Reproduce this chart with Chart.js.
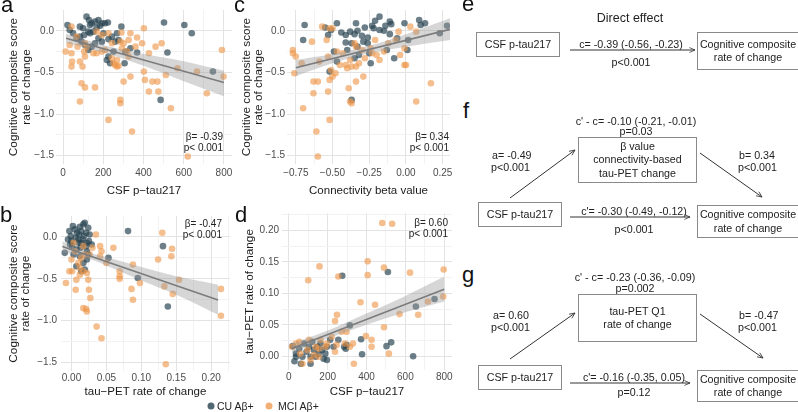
<!DOCTYPE html>
<html>
<head>
<meta charset="utf-8">
<script src="https://cdn.jsdelivr.net/npm/chart.js@4.4.1/dist/chart.umd.min.js"></script>
<style>
  body { margin: 0; width: 798px; height: 412px; background: #fff; position: relative; overflow: hidden;
         font-family: 'Liberation Sans', Arial, sans-serif; color: #222; }
  canvas { position: absolute; }
  .lbl { position: absolute; font-size: 22px; line-height: 22px; color: #111; }
  .stat { position: absolute; font-size: 10px; line-height: 11px; color: #222; text-align: right; white-space: nowrap; }
  .box { position: absolute; box-sizing: border-box; border: 1px solid #8a8a8a; display: flex; align-items: center;
         justify-content: center; text-align: center; font-size: 10.7px; line-height: 13.5px; color: #222; }
  .t { position: absolute; font-size: 10.7px; line-height: 12px; color: #222; white-space: nowrap; }
  .c { transform: translate(-50%, -50%); }
  .l { transform: translateY(-50%); }
  .leg { position: absolute; font-size: 10.5px; color: #222; white-space: nowrap; transform: translateY(-50%); }
  .dot { position: absolute; width: 7px; height: 7px; border-radius: 50%; transform: translate(-50%, -50%); }
</style>
</head>
<body>
<canvas id="chartA" width="236" height="200" style="left:0;top:0"></canvas>
<canvas id="chartC" width="224" height="200" style="left:232px;top:0"></canvas>
<canvas id="chartB" width="236" height="200" style="left:0;top:200px"></canvas>
<canvas id="chartD" width="224" height="200" style="left:232px;top:200px"></canvas>

<div class="lbl" style="left:1px;top:-6px">a</div>
<div class="lbl" style="left:234px;top:-6px">c</div>
<div class="lbl" style="left:0;top:204px">b</div>
<div class="lbl" style="left:235px;top:204px">d</div>
<div class="lbl" style="left:462px;top:-7px">e</div>
<div class="lbl" style="left:463px;top:100px">f</div>
<div class="lbl" style="left:462px;top:264px">g</div>

<div class="stat" style="right:575px;top:131px">β= -0.39<br>p&lt; 0.001</div>
<div class="stat" style="right:349px;top:131px">β= 0.34<br>p&lt; 0.001</div>
<div class="stat" style="right:576px;top:218px">β= -0.47<br>p&lt; 0.001</div>
<div class="stat" style="right:350px;top:217px">β= 0.60<br>p&lt; 0.001</div>

<div class="dot" style="left:211px;top:406px;background:rgba(38,66,80,0.8)"></div>
<div class="leg" style="left:217px;top:406px">CU Aβ+</div>
<div class="dot" style="left:269px;top:406px;background:rgba(238,150,72,0.75)"></div>
<div class="leg" style="left:278px;top:406px">MCI Aβ+</div>

<!-- mediation diagrams -->
<svg width="798" height="412" style="position:absolute;left:0;top:0">
  <defs>
    <marker id="ah" viewBox="0 0 10 10" refX="9" refY="5" markerWidth="7" markerHeight="7" orient="auto">
      <path d="M1,1.5 L9,5 L1,8.5" fill="none" stroke="#333" stroke-width="1.1"/>
    </marker>
  </defs>
  <g stroke="#333" stroke-width="1" marker-end="url(#ah)">
    <line x1="570" y1="50" x2="695" y2="50"/>
    <line x1="510" y1="198" x2="575" y2="150"/>
    <line x1="700" y1="153" x2="762" y2="197"/>
    <line x1="570" y1="217" x2="690" y2="217"/>
    <line x1="510" y1="359" x2="575" y2="313"/>
    <line x1="700" y1="314" x2="763" y2="358"/>
    <line x1="570" y1="383" x2="690" y2="383"/>
  </g>
</svg>

<div class="t c" style="left:630px;top:18px;font-size:12.5px">Direct effect</div>
<div class="box" style="left:476px;top:32px;width:84px;height:25px">CSF p-tau217</div>
<div class="t c" style="left:631px;top:44px">c= -0.39 (-0.56, -0.23)</div>
<div class="t c" style="left:631px;top:62px">p&lt;0.001</div>
<div class="box" style="left:697px;top:32px;width:102px;height:38px">Cognitive composite<br>rate of change</div>

<div class="t c" style="left:636px;top:121px">c' - c= -0.10 (-0.21, -0.01)</div>
<div class="t c" style="left:636px;top:131px">p=0.03</div>
<div class="box" style="left:578px;top:137px;width:119px;height:46px">β value<br>connectivity-based<br>tau-PET change</div>
<div class="t l" style="left:492px;top:155px">a= -0.49</div>
<div class="t l" style="left:491px;top:167px">p&lt;0.001</div>
<div class="t l" style="left:739px;top:155px">b= 0.34</div>
<div class="t l" style="left:738px;top:167px">p&lt;0.001</div>
<div class="box" style="left:478px;top:202px;width:84px;height:25px">CSF p-tau217</div>
<div class="t c" style="left:634px;top:211px">c'= -0.30 (-0.49, -0.12)</div>
<div class="t c" style="left:634px;top:229px">p&lt;0.001</div>
<div class="box" style="left:697px;top:205px;width:102px;height:33px">Cognitive composite<br>rate of change</div>

<div class="t c" style="left:635px;top:277px">c' - c= -0.23 (-0.36, -0.09)</div>
<div class="t c" style="left:635px;top:288px">p=0.002</div>
<div class="box" style="left:578px;top:294px;width:119px;height:48px">tau-PET Q1<br>rate of change</div>
<div class="t l" style="left:493px;top:315px">a= 0.60</div>
<div class="t l" style="left:491px;top:327px">p&lt;0.001</div>
<div class="t l" style="left:739px;top:315px">b= -0.47</div>
<div class="t l" style="left:738px;top:327px">p&lt;0.001</div>
<div class="box" style="left:478px;top:365px;width:84px;height:25px">CSF p-tau217</div>
<div class="t c" style="left:634px;top:377px">c'= -0.16 (-0.35, 0.05)</div>
<div class="t c" style="left:634px;top:392px">p=0.12</div>
<div class="box" style="left:697px;top:370px;width:102px;height:32px">Cognitive composite<br>rate of change</div>

<script>
// ---- tick positions / labels ----
const pTauTicks = [0, 200, 400, 600, 800];
const pTauLabels = ['0', '200', '400', '600', '800'];
const pTauMinor = [100, 300, 500, 700];
const cogTicks = [0, -0.5, -1, -1.5];
const cogLabels = ['0.0', '\u22120.5', '\u22121.0', '\u22121.5'];
const cogMinor = [-0.25, -0.75, -1.25];
const connTicks = [-0.75, -0.5, -0.25, 0, 0.25];
const connLabels = ['\u22120.75', '\u22120.50', '\u22120.25', '0.00', '0.25'];
const connMinor = [-0.625, -0.375, -0.125, 0.125];
const tauTicks = [0, 0.05, 0.1, 0.15, 0.2];
const tauLabels = ['0.00', '0.05', '0.10', '0.15', '0.20'];
const tauMinor = [0.025, 0.075, 0.125, 0.175, 0.225];

// ---- panel a: CSF p-tau217 vs cognitive change ----
const aCU = [[22,0.07],[33,0.01],[50,-0.03],[84,0.05],[100,0.03],[105,-0.05],[117,0.17],[129,0.13],[134,0.07],[142,0.09],
  [151,-0.01],[159,0.11],[167,0.04],[176,0.13],[184,0.06],[193,0.09],[201,-0.03],[209,0.09],[223,0.10],[84,-0.07],
  [92,-0.13],[109,-0.17],[126,-0.23],[142,-0.19],[159,-0.15],[176,-0.09],[193,-0.13],[226,-0.10],[243,-0.07],[268,-0.03],
  [290,0.05],[259,-0.13],[276,-0.11],[226,-0.31],[218,-0.35],[234,-0.39],[251,-0.25],[310,-0.25],[306,-0.39],[335,-0.21],
  [368,-0.26],[502,0.10],[519,-0.26],[603,0.07],[640,-0.03],[745,-0.49],[485,-0.83],[126,-0.01],[67,-0.09],[134,-0.03]];
const aMCI = [[13,-0.25],[42,0.05],[33,-0.17],[42,-0.27],[45,-0.37],[42,-0.43],[67,-0.07],[72,-0.19],[84,-0.37],[97,-0.43],
  [105,-0.25],[109,-0.31],[117,-0.19],[92,-0.63],[84,-0.85],[109,-0.68],[109,-0.15],[151,-0.27],[167,-0.27],[193,-0.25],
  [209,-0.23],[243,-0.15],[251,-0.39],[268,-0.35],[276,-0.42],[268,-0.43],[285,-0.13],[293,-0.21],[301,-0.15],[318,-0.25],
  [326,-0.11],[335,-0.03],[326,-0.31],[335,-0.55],[285,-0.83],[285,-0.87],[226,-1.07],[301,-0.61],[343,-1.21],[402,0.03],
  [393,-0.15],[402,-0.49],[407,-0.59],[427,-0.27],[444,-0.61],[427,-0.73],[469,-0.61],[474,-0.73],[490,-0.15],[511,-0.53],
  [536,-0.93],[569,-0.45],[620,-1.51],[666,-0.49],[715,-0.75],[790,-0.23],[798,-0.55],[368,-0.08],[360,-0.19],[460,-0.19],
  [159,-0.68],[243,-0.33],[259,-0.41],[290,-0.02],[193,-0.05],[226,-0.03],[167,-0.01]];
const aFit = [[15,-0.09],[800,-0.62]];
const aBandHi = [[15,-0.035],[200,-0.17],[400,-0.28],[600,-0.365],[800,-0.48]];
const aBandLo = [[15,-0.145],[200,-0.26],[400,-0.42],[600,-0.605],[800,-0.785]];

// ---- panel c: connectivity beta vs cognitive change ----
const cCU = [[-0.69,0.07],[-0.70,-0.11],[-0.55,0.04],[-0.53,-0.05],[-0.52,-0.49],[-0.51,0.01],[-0.47,0.09],[-0.44,-0.02],
  [-0.41,-0.05],[-0.40,-0.23],[-0.38,-0.01],[-0.37,-0.15],[-0.35,-0.33],[-0.34,0.09],[-0.35,-0.04],[-0.37,-0.83],[-0.33,-0.19],
  [-0.32,-0.29],[-0.30,-0.06],[-0.29,-0.13],[-0.28,0.04],[-0.26,-0.08],[-0.25,-0.27],[-0.24,-0.39],[-0.23,0.06],[-0.22,0.03],
  [-0.21,0.12],[-0.18,0.17],[-0.18,0.01],[-0.15,0.0],[-0.14,0.06],[-0.13,-0.23],[-0.11,-0.04],[-0.11,0.11],[-0.10,0.08],
  [-0.08,-0.33],[-0.06,-0.09],[-0.01,0.09],[0.01,-0.23],[0.015,-0.11],[0.09,0.13],[0.10,0.07],[0.13,0.09],[0.23,-0.03],
  [0.28,0.06],[-0.49,-0.25],[-0.47,-0.37],[-0.26,-0.15],[-0.41,-0.14],[-0.33,0.0]];
const cMCI = [[-0.77,-0.23],[-0.77,-0.27],[-0.76,-0.51],[-0.71,-0.39],[-0.75,-0.31],[-0.70,-0.93],[-0.64,-0.13],[-0.59,-0.37],
  [-0.63,-0.61],[-0.60,-0.61],[-0.63,-0.75],[-0.61,-1.21],[-0.60,-1.51],[-0.57,0.05],[-0.54,-0.11],[-0.52,0.03],[-0.50,0.03],
  [-0.53,-0.31],[-0.51,-0.47],[-0.50,-0.55],[-0.52,-0.59],[-0.53,-0.73],[-0.52,-1.07],[-0.47,-0.25],[-0.45,-0.41],[-0.48,-0.51],
  [-0.43,-0.27],[-0.41,-0.41],[-0.40,-0.45],[-0.39,-0.69],[-0.38,-0.85],[-0.37,-0.87],[-0.34,-0.61],[-0.35,-0.15],[-0.37,-0.43],
  [-0.34,-0.43],[-0.32,-0.39],[-0.29,-0.55],[-0.30,-0.23],[-0.28,-0.33],[-0.23,-0.27],[-0.21,-0.11],[-0.20,-0.29],[-0.18,-0.35],
  [-0.15,-0.25],[-0.12,-0.15],[-0.07,-0.11],[-0.05,-0.01],[-0.04,-0.29],[-0.01,-0.41],[0.00,-0.41],[-0.01,-0.21],[0.03,0.05],
  [0.07,-0.85],[0.17,-0.63],[0.07,-0.01],[-0.24,-0.21],[-0.34,-0.19],[-0.38,-0.35]];
const cFit = [[-0.75,-0.444],[0.30,0.017]];
const cBandHi = [[-0.75,-0.35],[-0.5,-0.28],[-0.25,-0.18],[0,-0.04],[0.30,0.15]];
const cBandLo = [[-0.75,-0.545],[-0.5,-0.39],[-0.25,-0.27],[0,-0.19],[0.30,-0.11]];

// ---- panel b: tau-PET change vs cognitive change ----
const bCU = [[-0.0096,-0.19],[-0.003,0.07],[-0.001,0.01],[0,-0.05],[0.002,0.13],[0.005,0.09],[0.006,-0.01],[0.008,0.05],
  [0.010,-0.07],[0.011,0.03],[0.012,0.12],[0.013,-0.13],[0.014,0.07],[0.016,-0.03],[0.017,0.15],[0.018,0.01],[0.019,0.17],
  [0.021,0.05],[0.022,-0.07],[0.022,-0.17],[0.024,0.11],[0.025,-0.05],[0.026,0.03],[-0.002,-0.09],[0.007,-0.15],[0.012,-0.23],
  [0.017,-0.31],[0.019,-0.39],[0.014,-0.41],[0.007,-0.35],[0.022,-0.27],[0.003,-0.21],[0.029,-0.09],[0.010,-0.03],[-0.005,-0.03],
  [0.053,-0.25],[0.081,0.07],[0.095,-0.49],[0.131,-0.11],[0.138,-0.83],[0.001,-0.11],[0.024,-0.21],[0.014,-0.07],[0.021,-0.11]];
const bMCI = [[-0.008,-0.55],[0.006,-0.63],[0.007,-0.51],[0.001,-0.41],[0,-0.27],[0.01,-0.31],[0.012,-0.37],[0.017,-0.41],
  [0.022,-0.43],[0.024,-0.51],[0.025,-0.63],[0.027,-0.73],[0.017,-0.85],[0.021,-0.86],[0.022,-0.89],[0.036,-1.07],[0.043,-1.21],
  [0.035,0.03],[0.041,-0.11],[0.043,-0.17],[0.041,-0.23],[0.060,-0.13],[0.050,-0.31],[0.069,-0.41],[0.069,-0.47],[0.069,-0.50],
  [0.088,-0.33],[0.086,-0.62],[0.088,-0.75],[0.098,-0.55],[0.124,-0.27],[0.130,0.05],[0.133,-0.59],[0.135,-1.52],[0.143,-0.23],
  [0.144,-0.14],[0.145,-0.68],[0.154,-0.51],[0.214,-0.62],[0.214,-0.94],[0.005,-0.17],[0.019,-0.21],[0.014,-0.25],[0.026,-0.21],
  [0.003,-0.07],[0.030,-0.13],[0.017,-0.11],[0.012,-0.45],[-0.003,-0.41]];
const bFit = [[-0.013,-0.113],[0.21,-0.753]];
const bBandHi = [[-0.013,-0.05],[0.02,-0.175],[0.05,-0.24],[0.1,-0.36],[0.15,-0.47],[0.21,-0.57]];
const bBandLo = [[-0.013,-0.18],[0.02,-0.245],[0.05,-0.34],[0.1,-0.52],[0.15,-0.69],[0.21,-0.93]];

// ---- panel d: CSF p-tau217 vs tau-PET change ----
const dCU = [[510,0.134],[275,0.128],[654,0.079],[750,0.091],[314,0.049],[372,0.027],[377,0.003],[503,0.016],[527,0.022],
  [640,0.000],[285,0.015],[293,0.012],[297,0.018],[20,0.016],[29,-0.008],[37,0.004],[54,0.012],[70,-0.001],[79,0.020],
  [91,0.007],[104,0.015],[112,-0.001],[121,0.023],[129,0.010],[138,-0.001],[146,0.015],[154,0.004],[163,0.020],[171,0.010],
  [179,-0.004],[188,0.004],[196,0.015],[213,0.026],[230,0.015],[255,0.026],[196,-0.006],[112,-0.012],[62,-0.012],[37,-0.001]];
const dMCI = [[481,0.212],[532,0.211],[158,0.143],[100,0.121],[255,0.127],[406,0.151],[406,0.129],[490,0.141],[624,0.133],
  [797,0.138],[795,0.095],[369,0.086],[444,0.082],[570,0.067],[666,0.066],[716,0.087],[238,0.056],[248,0.066],[397,0.032],
  [426,0.026],[426,0.015],[490,0.046],[515,0.004],[335,-0.012],[330,0.020],[288,0.020],[238,0.007],[188,0.015],[138,0.015],
  [96,0.010],[59,0.004],[37,0.020],[54,0.023],[104,0.026],[163,0.026],[196,0.020],[221,0.031],[272,0.039],[297,0.039],
  [314,0.015],[112,-0.006],[70,-0.012],[129,0.002],[154,0.012],[246,0.018],[17,0.015],[154,-0.001]];
const dFit = [[15,0.0123],[800,0.1065]];
const dBandHi = [[15,0.02],[200,0.041],[400,0.068],[600,0.096],[800,0.127]];
const dBandLo = [[15,0.005],[200,0.028],[400,0.05],[600,0.07],[800,0.087]];

Chart.defaults.font.family = "'Liberation Sans', Arial, sans-serif";

const CU_COL = 'rgba(38, 66, 80, 0.68)';
const MCI_COL = 'rgba(238, 150, 72, 0.62)';
const pts = arr => arr.map(([x, y]) => ({ x, y }));

// one axis (ggplot-minimal look: major + minor grid, no axis line)
function axis(a) {
  const grid = a.ticks.concat(a.minor);
  return {
    type: 'linear', min: a.min, max: a.max,
    afterBuildTicks: s => { s.ticks = grid.map(v => ({ value: v })); },
    afterFit: s => { if (a.w !== undefined) s.width = a.w; if (a.h !== undefined) s.height = a.h; },
    border: { display: false },
    grid: { drawTicks: false, lineWidth: 1, color: c => a.ticks.includes(c.tick.value) ? '#e3e3e3' : '#f2f2f2' },
    ticks: {
      autoSkip: false, maxRotation: 0, padding: a.tickPad, color: '#4d4d4d', font: { size: 10 },
      callback: v => { const i = a.ticks.indexOf(v); return i < 0 ? '' : a.labels[i]; }
    },
    title: { display: true, text: a.title, color: '#1a1a1a', font: { size: a.titleSize, lineHeight: a.titleLh }, padding: a.titlePad }
  };
}

function panel(id, p) {
  return new Chart(document.getElementById(id), {
    type: 'scatter',
    data: {
      datasets: [
        { type: 'line', data: pts(p.fit), borderColor: '#7c7c7c', borderWidth: 1.6, pointRadius: 0, fill: false, order: 0 },
        { type: 'line', data: pts(p.hi), borderWidth: 0, borderColor: 'rgba(0,0,0,0)', pointRadius: 0, fill: '+1',
          backgroundColor: 'rgba(153,153,153,0.4)', cubicInterpolationMode: 'monotone', order: 1 },
        { type: 'line', data: pts(p.lo), borderWidth: 0, borderColor: 'rgba(0,0,0,0)', pointRadius: 0, fill: false,
          cubicInterpolationMode: 'monotone', order: 1 },
        { data: pts(p.mci), pointRadius: 3.3, backgroundColor: MCI_COL, borderWidth: 0, order: 2 },
        { data: pts(p.cu), pointRadius: 3.3, backgroundColor: CU_COL, borderWidth: 0, order: 3 }
      ]
    },
    options: {
      responsive: false,
      animation: false,
      layout: { padding: p.pad },
      plugins: { legend: { display: false }, tooltip: { enabled: false } },
      scales: { x: axis(p.x), y: axis(p.y) }
    }
  });
}

const cogTitle = ['Cognitive composite score', 'rate of change'];

panel('chartA', {
  cu: aCU, mci: aMCI, fit: aFit, hi: aBandHi, lo: aBandLo,
  pad: { left: 0, right: 4, top: 10, bottom: 0 },
  x: { min: -35, max: 840, ticks: pTauTicks, labels: pTauLabels, minor: pTauMinor, title: 'CSF p\u2212tau217', titleSize: 11.5, titleLh: 1.2, h: 36, tickPad: 3, titlePad: { top: 0, bottom: 2 } },
  y: { min: -1.6, max: 0.25, ticks: cogTicks, labels: cogLabels, minor: cogMinor, title: cogTitle, titleSize: 11.8, titleLh: 1.07, w: 56, tickPad: 2, titlePad: { top: 7.7, bottom: 0 } }
});

panel('chartC', {
  cu: cCU, mci: cMCI, fit: cFit, hi: cBandHi, lo: cBandLo,
  pad: { left: 0, right: 6, top: 10, bottom: 0 },
  x: { min: -0.81, max: 0.30, ticks: connTicks, labels: connLabels, minor: connMinor, title: 'Connectivity beta value', titleSize: 11.5, titleLh: 1.2, h: 36, tickPad: 3, titlePad: { top: 0, bottom: 2 } },
  y: { min: -1.6, max: 0.25, ticks: cogTicks, labels: cogLabels, minor: cogMinor, title: cogTitle, titleSize: 11.8, titleLh: 1.07, w: 55, tickPad: 2, titlePad: { top: 8, bottom: 0 } }
});

panel('chartB', {
  cu: bCU, mci: bMCI, fit: bFit, hi: bBandHi, lo: bBandLo,
  pad: { left: 0, right: 6, top: 16, bottom: 0 },
  x: { min: -0.015, max: 0.227, ticks: tauTicks, labels: tauLabels, minor: tauMinor, title: 'tau\u2212PET rate of change', titleSize: 11.5, titleLh: 1.2, h: 29, tickPad: 1, titlePad: { top: 0, bottom: 1 } },
  y: { min: -1.6, max: 0.25, ticks: cogTicks, labels: cogLabels, minor: cogMinor, title: cogTitle, titleSize: 11.8, titleLh: 1.07, w: 61, tickPad: 4, titlePad: { top: 7, bottom: 0 } }
});

panel('chartD', {
  cu: dCU, mci: dMCI, fit: dFit, hi: dBandHi, lo: dBandLo,
  pad: { left: 0, right: 3, top: 13, bottom: 0 },
  x: { min: -35, max: 840, ticks: pTauTicks, labels: pTauLabels, minor: pTauMinor, title: 'CSF p\u2212tau217', titleSize: 11.5, titleLh: 1.2, h: 30, tickPad: 1, titlePad: { top: 0, bottom: 1 } },
  y: { min: -0.022, max: 0.228, ticks: tauTicks, labels: tauLabels, minor: tauMinor, title: 'tau\u2212PET rate of change', titleSize: 11.8, titleLh: 1.07, w: 50, tickPad: 3, titlePad: { top: 11.5, bottom: 0 } }
});
</script>
</body>
</html>
